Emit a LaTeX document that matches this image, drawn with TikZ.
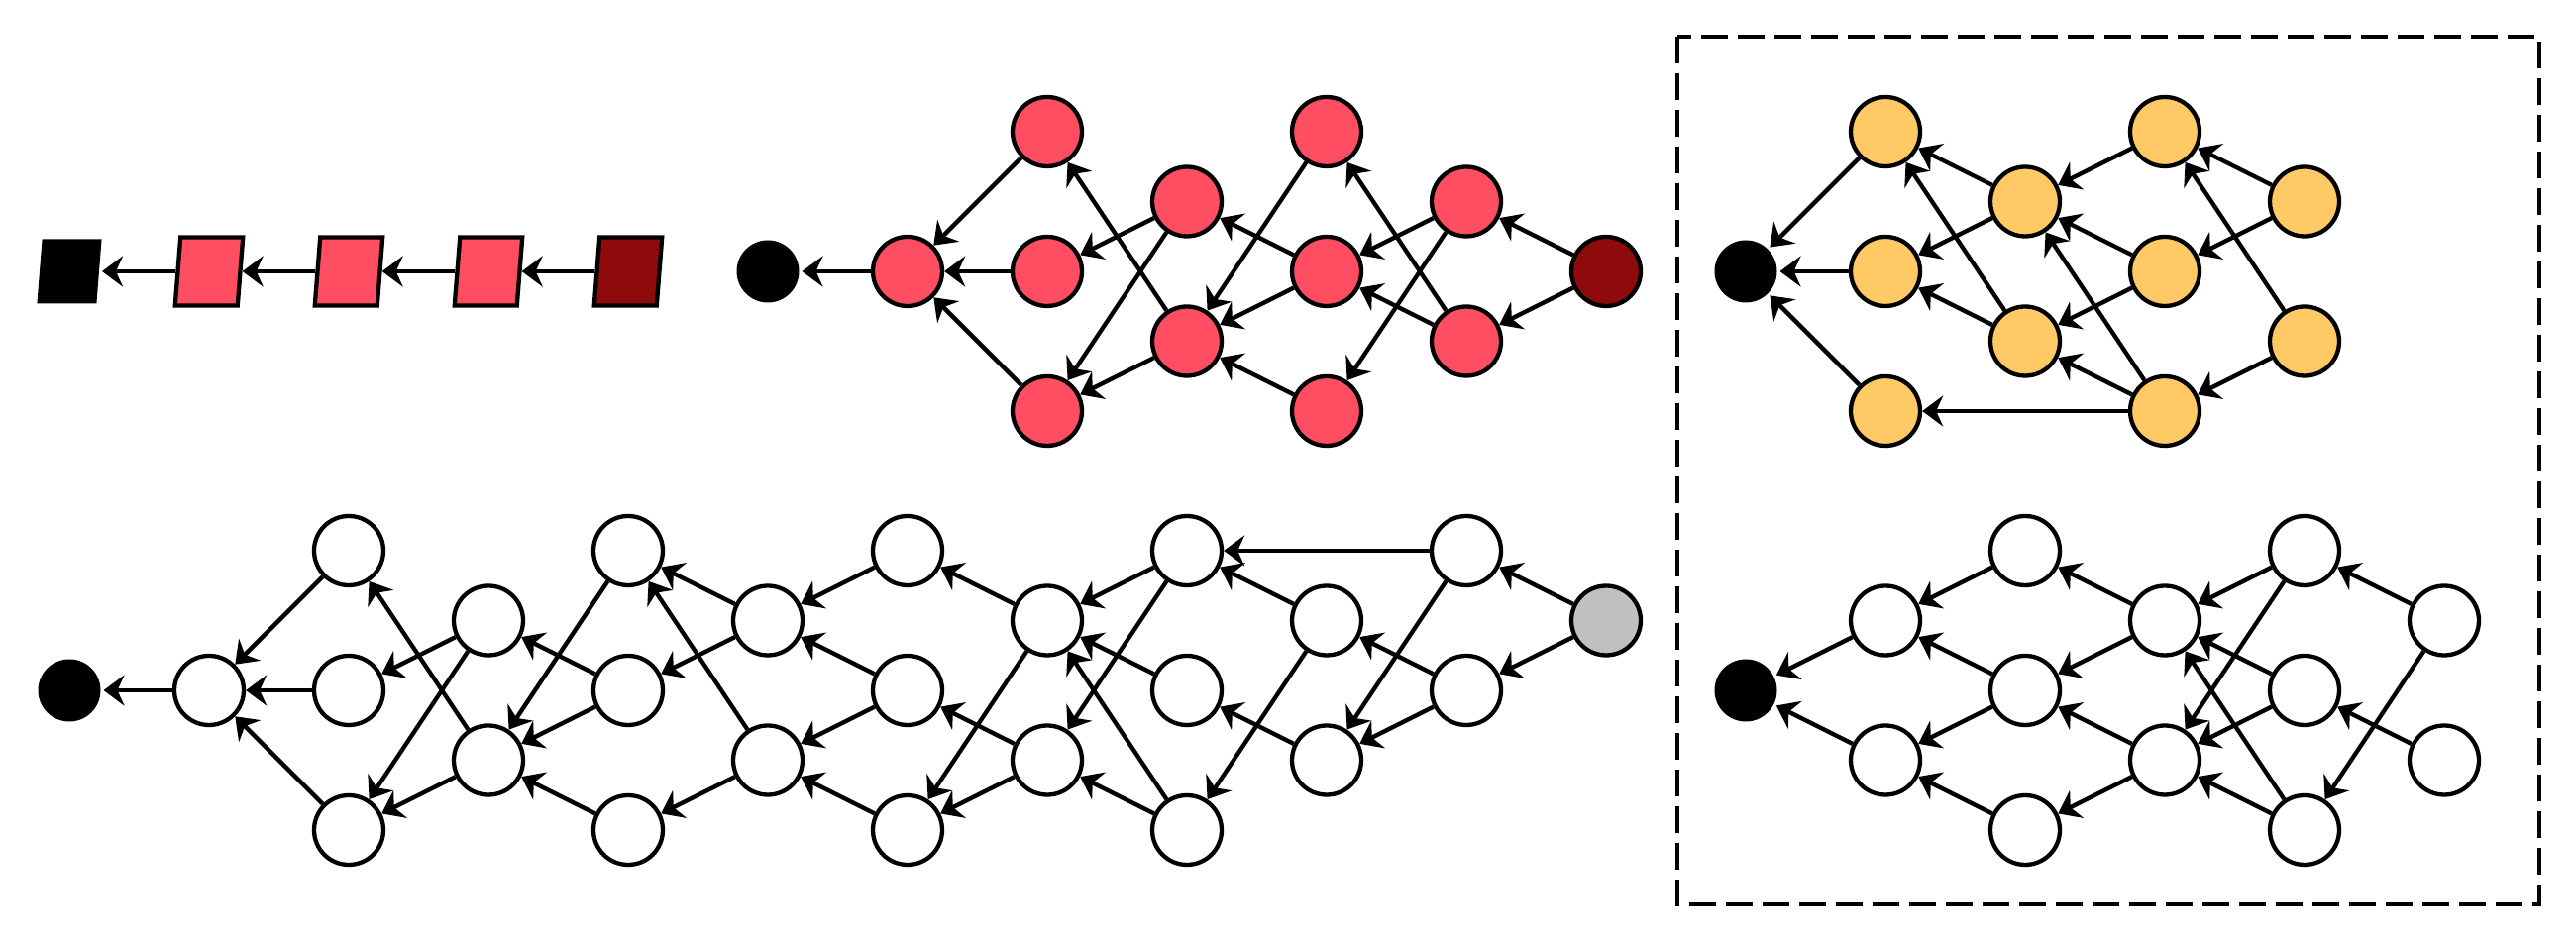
\documentclass[tikz,border=0pt]{standalone}
\usetikzlibrary{arrows.meta}
\definecolor{pinkc}{HTML}{FF4D62}
\definecolor{darkc}{HTML}{8E0A0B}
\definecolor{yellc}{HTML}{FFC966}
\definecolor{grayc}{HTML}{C0C0C0}
\tikzset{
  nd/.style={circle,draw=black,line width=0.043cm,minimum size=0.70cm,inner sep=0pt},
  pnd/.style={nd,fill=pinkc},
  dnd/.style={nd,fill=darkc},
  ynd/.style={nd,fill=yellc},
  wnd/.style={nd,fill=white},
  gnd/.style={nd,fill=grayc},
  bnd/.style={circle,fill=black,minimum size=0.63cm,inner sep=0pt,outer sep=0.03cm},
  para/.style={rectangle,draw=black,line width=0.043cm,minimum width=0.63cm,minimum height=0.69cm,inner sep=0pt},
  ppara/.style={para,fill=pinkc},
  dpara/.style={para,fill=darkc},
  bpara/.style={rectangle,fill=black,minimum width=0.60cm,minimum height=0.65cm,inner sep=0pt,outer sep=0.03cm},
  edge/.style={line width=0.043cm,-{Stealth[length=0.21cm,width=0.31cm,inset=0.07cm]}},
  frame/.style={line width=0.043cm,dash pattern=on 0.27cm off 0.10cm}
}
\begin{document}
\begin{tikzpicture}[x=1.41cm,y=-0.705cm]
\useasboundingbox (-0.496454,-1.886525) rectangle (17.943262,11.560284);
% chain
\foreach \n/\k/\s in {Q0/0/bpara,Q1/1/ppara,Q2/2/ppara,Q3/3/ppara,Q4/4/dpara}{
  \begin{scope}[shift={(\k,2)},xslant=0.079,transform shape]
    \node[\s] (\n) at (0,0) {};
  \end{scope}
}
\foreach \a/\b in {Q4/Q3,Q3/Q2,Q2/Q1,Q1/Q0} \draw[edge] (\a) -- (\b);
% top middle
\node[bnd] (T0) at (5,2) {};
\node[pnd] (T1) at (6,2) {};
\node[pnd] (T2a) at (7,0) {};
\node[pnd] (T2b) at (7,2) {};
\node[pnd] (T2c) at (7,4) {};
\node[pnd] (T3a) at (8,1) {};
\node[pnd] (T3b) at (8,3) {};
\node[pnd] (T4a) at (9,0) {};
\node[pnd] (T4b) at (9,2) {};
\node[pnd] (T4c) at (9,4) {};
\node[pnd] (T5a) at (10,1) {};
\node[pnd] (T5b) at (10,3) {};
\node[dnd] (T6) at (11,2) {};
\foreach \a/\b in {T1/T0,T2a/T1,T2b/T1,T2c/T1,T3a/T2b,T3a/T2c,T3b/T2a,T3b/T2c,
  T4a/T3b,T4b/T3a,T4b/T3b,T4c/T3b,T5a/T4b,T5a/T4c,T5b/T4a,T5b/T4b,T6/T5a,T6/T5b}
  \draw[edge] (\a) -- (\b);
% yellow
\node[bnd] (Y0) at (12,2) {};
\node[ynd] (Y1a) at (13,0) {};
\node[ynd] (Y1b) at (13,2) {};
\node[ynd] (Y1c) at (13,4) {};
\node[ynd] (Y2a) at (14,1) {};
\node[ynd] (Y2b) at (14,3) {};
\node[ynd] (Y3a) at (15,0) {};
\node[ynd] (Y3b) at (15,2) {};
\node[ynd] (Y3c) at (15,4) {};
\node[ynd] (Y4a) at (16,1) {};
\node[ynd] (Y4b) at (16,3) {};
\foreach \a/\b in {Y1a/Y0,Y1b/Y0,Y1c/Y0,Y2a/Y1a,Y2a/Y1b,Y2b/Y1a,Y2b/Y1b,Y3a/Y2a,
  Y3b/Y2a,Y3b/Y2b,Y3c/Y2a,Y3c/Y2b,Y3c/Y1c,Y4a/Y3a,Y4a/Y3b,Y4b/Y3a,Y4b/Y3c}
  \draw[edge] (\a) -- (\b);
% bottom left
\node[bnd] (W0) at (0,8) {};
\node[wnd] (W1) at (1,8) {};
\node[wnd] (W2a) at (2,6) {};
\node[wnd] (W2b) at (2,8) {};
\node[wnd] (W2c) at (2,10) {};
\node[wnd] (W3a) at (3,7) {};
\node[wnd] (W3b) at (3,9) {};
\node[wnd] (W4a) at (4,6) {};
\node[wnd] (W4b) at (4,8) {};
\node[wnd] (W4c) at (4,10) {};
\node[wnd] (W5a) at (5,7) {};
\node[wnd] (W5b) at (5,9) {};
\node[wnd] (W6a) at (6,6) {};
\node[wnd] (W6b) at (6,8) {};
\node[wnd] (W6c) at (6,10) {};
\node[wnd] (W7a) at (7,7) {};
\node[wnd] (W7b) at (7,9) {};
\node[wnd] (W8a) at (8,6) {};
\node[wnd] (W8b) at (8,8) {};
\node[wnd] (W8c) at (8,10) {};
\node[wnd] (W9a) at (9,7) {};
\node[wnd] (W9b) at (9,9) {};
\node[wnd] (W10a) at (10,6) {};
\node[wnd] (W10b) at (10,8) {};
\node[gnd] (G) at (11,7) {};
\foreach \a/\b in {W1/W0,W2a/W1,W2b/W1,W2c/W1,W3a/W2b,W3a/W2c,W3b/W2a,W3b/W2c,
  W4a/W3b,W4b/W3a,W4b/W3b,W4c/W3b,W5a/W4a,W5a/W4b,W5b/W4a,W5b/W4c,
  W6a/W5a,W6b/W5a,W6b/W5b,W6c/W5b,W7a/W6a,W7a/W6c,W7b/W6b,W7b/W6c,
  W8a/W7a,W8a/W7b,W8b/W7a,W8c/W7a,W8c/W7b,W9a/W8a,W9a/W8c,W9b/W8b,
  W10a/W8a,W10a/W9b,W10b/W9a,W10b/W9b,G/W10a,G/W10b}
  \draw[edge] (\a) -- (\b);
% bottom right
\node[bnd] (R0) at (12,8) {};
\node[wnd] (R1a) at (13,7) {};
\node[wnd] (R1b) at (13,9) {};
\node[wnd] (R2a) at (14,6) {};
\node[wnd] (R2b) at (14,8) {};
\node[wnd] (R2c) at (14,10) {};
\node[wnd] (R3a) at (15,7) {};
\node[wnd] (R3b) at (15,9) {};
\node[wnd] (R4a) at (16,6) {};
\node[wnd] (R4b) at (16,8) {};
\node[wnd] (R4c) at (16,10) {};
\node[wnd] (R5a) at (17,7) {};
\node[wnd] (R5b) at (17,9) {};
\foreach \a/\b in {R1a/R0,R1b/R0,R2a/R1a,R2b/R1a,R2b/R1b,R2c/R1b,R3a/R2a,R3a/R2b,
  R3b/R2b,R3b/R2c,R4a/R3a,R4a/R3b,R4b/R3a,R4b/R3b,R4c/R3a,R4c/R3b,R5a/R4a,R5a/R4c,R5b/R4b}
  \draw[edge] (\a) -- (\b);
% dashed frame
\draw[frame] (11.5106,-1.3617) rectangle (17.6809,11.0638);
\end{tikzpicture}
\end{document}
